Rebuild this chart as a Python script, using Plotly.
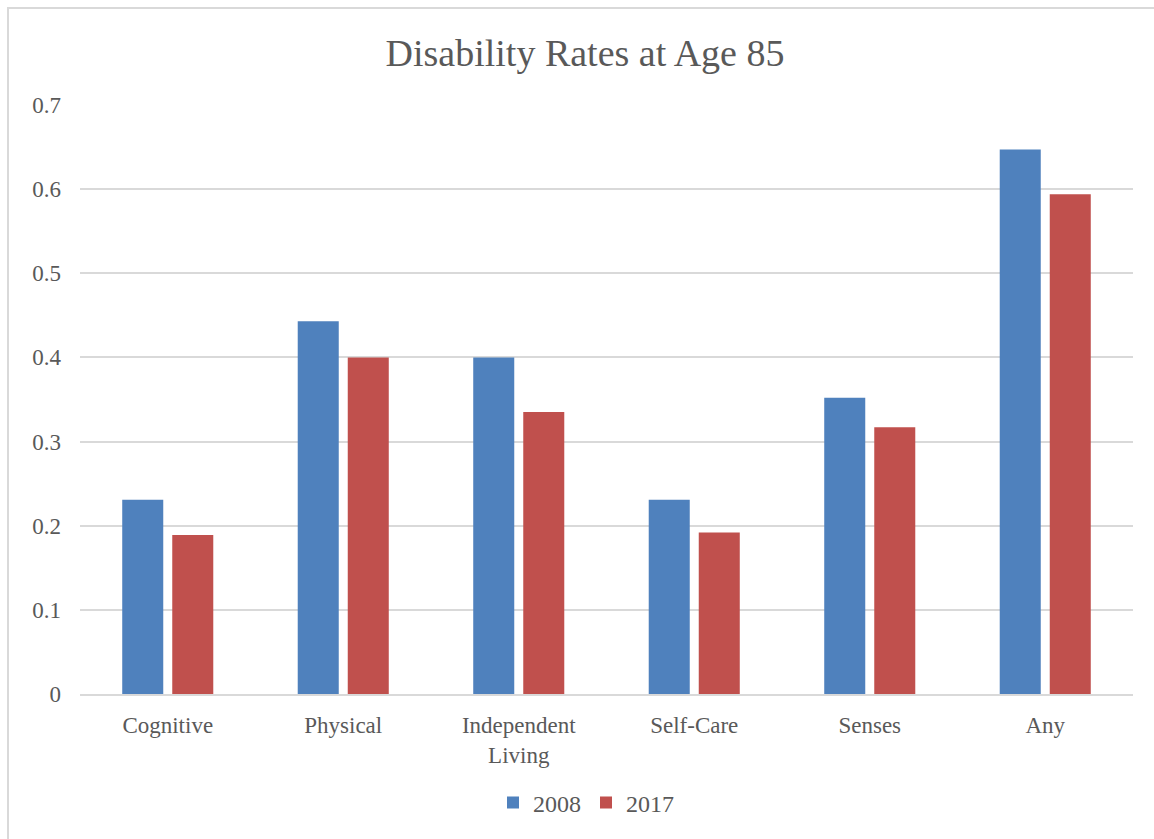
import plotly.graph_objects as go

categories = ["Cognitive", "Physical", "Independent<br>Living", "Self-Care", "Senses", "Any"]
rates_2008 = [0.231, 0.443, 0.400, 0.231, 0.352, 0.647]
rates_2017 = [0.189, 0.400, 0.335, 0.192, 0.317, 0.594]
y_ticks = [0, 0.1, 0.2, 0.3, 0.4, 0.5, 0.6, 0.7]
y_tick_labels = ["0", "0.1", "0.2", "0.3", "0.4", "0.5", "0.6", "0.7"]

FONT = "Liberation Serif"
W, H = 1154, 839
L, R, T, B = 80, 21, 105, 145
pw, ph = W - L - R, H - T - B

def px_x(x):
    return (x - L) / pw

def px_y(y):
    return (H - B - y) / ph

fig = go.Figure()
fig.add_trace(go.Bar(name="2008", x=categories, y=rates_2008,
                     marker=dict(color="#4F81BD", line=dict(width=0))))
fig.add_trace(go.Bar(name="2017", x=categories, y=rates_2017,
                     marker=dict(color="#C0504D", line=dict(width=0))))

fig.update_layout(
    width=W, height=H,
    margin=dict(l=L, r=R, t=T, b=B),
    paper_bgcolor="white", plot_bgcolor="white",
    font=dict(family=FONT, color="#595959", size=23),
    title=dict(text="Disability Rates at Age 85", xref="container", x=585 / W, xanchor="center",
               y=1 - 53 / H, yanchor="middle",
               font=dict(family=FONT, size=38, color="#595959")),
    barmode="group", bargap=0.43, bargroupgap=0.18,
    showlegend=True,
    legend=dict(orientation="h", x=px_x(586), xanchor="center", y=px_y(803), yanchor="middle",
                font=dict(family=FONT, size=24, color="#595959"),
                itemwidth=30, traceorder="normal"),
    xaxis=dict(showgrid=False, showline=True, linecolor="#D9D9D9", linewidth=2,
               ticks="", tickfont=dict(family=FONT, size=23, color="#595959"),
               ticklabelstandoff=9),
    yaxis=dict(range=[0, 0.7], tickvals=y_ticks, ticktext=y_tick_labels,
               showgrid=True, gridcolor="#D9D9D9", gridwidth=1.5,
               zeroline=False, showline=False, ticks="",
               tickfont=dict(family=FONT, size=23, color="#595959"), ticklabelstandoff=18),
    shapes=[dict(type="rect", xref="paper", yref="paper",
                 x0=px_x(8), x1=px_x(1160), y0=px_y(845), y1=px_y(8),
                 line=dict(color="#D9D9D9", width=2), layer="below")],
)

fig.write_html("out.html")
